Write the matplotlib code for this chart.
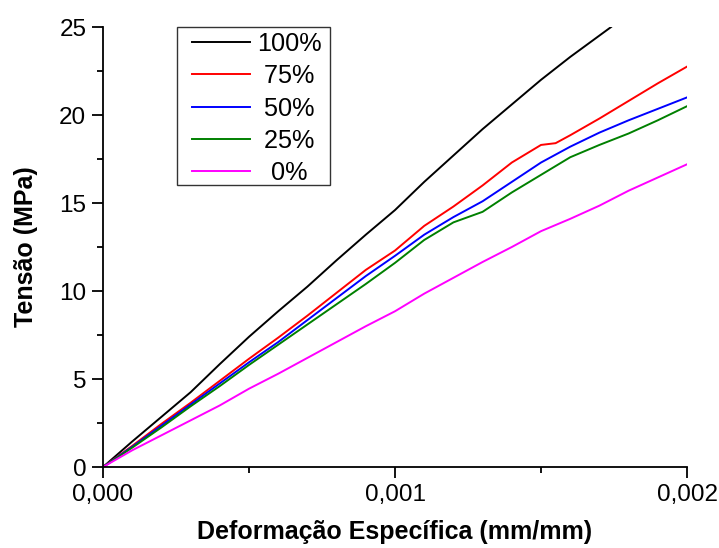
import matplotlib
matplotlib.use('Agg')
import matplotlib.pyplot as plt
from matplotlib.patches import Rectangle
from matplotlib.ticker import MultipleLocator

plt.rcParams['font.family'] = ['Liberation Sans', 'DejaVu Sans']

# strain (mm/mm) and stress (MPa)
strain = [0.0, 0.0001, 0.0002, 0.0003, 0.0004, 0.0005, 0.0006, 0.0007, 0.0008,
          0.0009, 0.001, 0.0011, 0.0012, 0.0013, 0.0014, 0.0015, 0.0016,
          0.0017, 0.0018, 0.0019, 0.002]

s100_x = [0.0, 0.0001, 0.0002, 0.0003, 0.0004, 0.0005, 0.0006, 0.0007, 0.0008,
          0.0009, 0.001, 0.0011, 0.0012, 0.0013, 0.0014, 0.0015, 0.0016, 0.00174]
s100 = [0.0, 1.45, 2.85, 4.25, 5.85, 7.4, 8.85, 10.25, 11.75, 13.2, 14.6, 16.2,
        17.7, 19.2, 20.6, 22.0, 23.3, 25.0]

s75_x = [0.0, 0.0001, 0.0002, 0.0003, 0.0004, 0.0005, 0.0006, 0.0007, 0.0008,
         0.0009, 0.001, 0.0011, 0.0012, 0.0013, 0.0014, 0.00145, 0.0015,
         0.00155, 0.0016, 0.0017, 0.0018, 0.0019, 0.002]
s75 = [0.0, 1.2, 2.45, 3.65, 4.9, 6.15, 7.35, 8.6, 9.9, 11.2, 12.3, 13.7, 14.8,
       16.0, 17.3, 17.8, 18.3, 18.4, 18.85, 19.8, 20.8, 21.8, 22.75]
s50 = [0.0, 1.15, 2.35, 3.55, 4.75, 5.95, 7.1, 8.35, 9.6, 10.85, 12.0, 13.2,
       14.2, 15.1, 16.2, 17.3, 18.2, 19.0, 19.7, 20.35, 21.0]
s25 = [0.0, 1.1, 2.25, 3.45, 4.6, 5.8, 6.95, 8.1, 9.25, 10.4, 11.6, 12.9, 13.9,
       14.5, 15.6, 16.6, 17.6, 18.3, 18.95, 19.7, 20.5]
s0 = [0.0, 0.95, 1.8, 2.65, 3.5, 4.45, 5.3, 6.2, 7.1, 8.0, 8.85, 9.85, 10.75,
      11.65, 12.5, 13.4, 14.1, 14.85, 15.7, 16.45, 17.2]

labels = ['100%', '75%', '50%', '25%', '0%']
colors = ['black', '#ff0000', '#0000ff', '#008000', '#ff00ff']

x_ticks = [0.0, 0.001, 0.002]
x_ticklabels = ['0,000', '0,001', '0,002']
y_ticks = [0, 5, 10, 15, 20, 25]

fig = plt.figure(figsize=(7.19, 5.48), dpi=100)
ax = fig.add_axes([0.1433, 0.1478, 0.8122, 0.8029])

ax.plot(s100_x, s100, color=colors[0], lw=1.4)
ax.plot(s75_x, s75, color=colors[1], lw=1.4)
ax.plot(strain, s50, color=colors[2], lw=1.4)
ax.plot(strain, s25, color=colors[3], lw=1.4)
ax.plot(strain, s0, color=colors[4], lw=1.4)

ax.set_xlim(0, 0.002)
ax.set_ylim(0, 25)
ax.set_xticks(x_ticks)
ax.set_xticklabels(x_ticklabels)
ax.set_yticks(y_ticks)
ax.xaxis.set_minor_locator(MultipleLocator(0.0005))
ax.yaxis.set_minor_locator(MultipleLocator(2.5))

for s in ['top', 'right']:
    ax.spines[s].set_visible(False)
for s in ['left', 'bottom']:
    ax.spines[s].set_linewidth(1.3)
ax.tick_params(which='major', direction='out', length=8, width=1.3,
               labelsize=17.5, pad=4)
ax.tick_params(which='minor', direction='out', length=4.5, width=1.3)

ax.set_xlabel('Deformação Específica (mm/mm)', fontsize=18, fontweight='bold',
              labelpad=10)
ax.set_ylabel('Tensão (MPa)', fontsize=18, fontweight='bold', labelpad=15)

# centre the legend labels the way the original does
pad = {4: '', 3: ' ', 2: '  '}
leg = ax.legend([pad[len(l)] + l for l in labels], loc='upper left',
                bbox_to_anchor=(0.1396, 1.006), borderaxespad=0, fontsize=18.2,
                handlelength=2.3, handletextpad=0.28, labelspacing=0.33,
                frameon=False, borderpad=0.3)
# legend frame drawn separately: wider side margins than legend allows
ax.add_patch(Rectangle((0.1267, 0.641), 0.262, 0.359, transform=ax.transAxes,
                       fill=False, edgecolor='#333333', lw=1.0, zorder=5,
                       clip_on=False))

plt.savefig('out.png', dpi=100)
